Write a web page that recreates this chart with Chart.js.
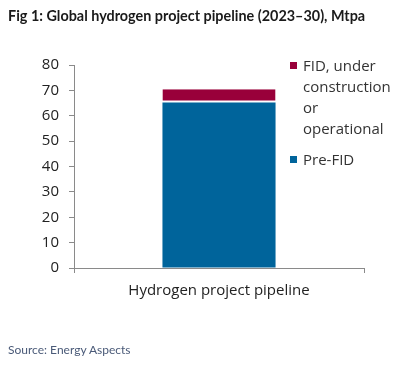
<!DOCTYPE html>
<html>
<head>
<meta charset="utf-8">
<script src="https://cdn.jsdelivr.net/npm/chart.js@4/dist/chart.umd.min.js"></script>
<style>
  html, body { margin: 0; padding: 0; background: #fff; }
  #wrap { position: relative; width: 414px; height: 375px; overflow: hidden; }
  #title { position: absolute; left: 8px; top: 7px; font-family: Lato, sans-serif; font-weight: 700; font-size: 14.4px; color: #1a1a1a; white-space: nowrap; }
  #source { position: absolute; left: 8px; top: 342px; font-family: Lato, sans-serif; font-size: 12px; color: #4a5a78; white-space: nowrap; }
  #cw { position: absolute; left: 0; top: 0; width: 414px; height: 375px; }
  #legend { position: absolute; left: 290px; top: 55px; font-family: "Open Sans", sans-serif; font-size: 15px; color: #333; line-height: 21px; }
  .item { position: relative; padding-left: 13px; margin-bottom: 10px; }
  .sw { position: absolute; left: 0; top: 7px; width: 7px; height: 7px; }
</style>
</head>
<body>
<div id="wrap">
  <div id="cw"><canvas id="c"></canvas></div>
  <div id="title">Fig 1: Global hydrogen project pipeline (2023–30), Mtpa</div>
  <div id="legend"></div>
  <div id="source">Source: Energy Aspects</div>
</div>
<script>
const categories = ['Hydrogen project pipeline'];
const seriesNames = ['Pre-FID', 'FID, under construction or operational'];
const legendLines = [['FID, under', 'construction', 'or', 'operational'], ['Pre-FID']];
const preFID = [65.2];
const fidUnderConstruction = [5.2];
const yTicks = [0, 10, 20, 30, 40, 50, 60, 70, 80];
const colors = { pre: '#00649b', fid: '#99003a' };

// HTML legend (reverse order, like stacked legend)
const legend = document.getElementById('legend');
[[colors.fid, legendLines[0]], [colors.pre, legendLines[1]]].forEach(([c, lines]) => {
  const d = document.createElement('div');
  d.className = 'item';
  d.innerHTML = '<span class="sw" style="background:' + c + '"></span>' + lines.join('<br>');
  legend.appendChild(d);
});

new Chart(document.getElementById('c'), {
  type: 'bar',
  data: {
    labels: categories,
    datasets: [
      { label: seriesNames[0], data: preFID, backgroundColor: colors.pre, borderWidth: 0,
        barPercentage: 0.39, categoryPercentage: 1 },
      { label: seriesNames[1], data: fidUnderConstruction, backgroundColor: colors.fid,
        borderColor: '#ffffff', borderWidth: { bottom: 2, top: 0, left: 0, right: 0 }, borderSkipped: false,
        barPercentage: 0.39, categoryPercentage: 1 }
    ]
  },
  options: {
    responsive: true,
    maintainAspectRatio: false,
    animation: false,
    layout: { padding: { left: 0, right: 50, top: 65, bottom: 67 } },
    plugins: { legend: { display: false }, tooltip: { enabled: false } },
    scales: {
      x: {
        stacked: true,
        afterFit: s => { s.height = 40; },
        grid: { offset: true, drawOnChartArea: false, drawTicks: true, tickLength: 5, color: '#8a8a8a' },
        border: { color: '#8a8a8a', width: 1 },
        ticks: { color: '#222', font: { family: 'Open Sans', size: 15 }, padding: 9 }
      },
      y: {
        stacked: true,
        min: 0, max: 80,
        afterFit: s => { s.width = 74; },
        afterBuildTicks: s => { s.ticks = yTicks.map(v => ({ value: v })); },
        grid: { drawOnChartArea: false, drawTicks: true, tickLength: 5, color: '#8a8a8a' },
        border: { color: '#8a8a8a', width: 1 },
        ticks: { color: '#222', font: { family: 'Open Sans', size: 15 }, padding: 10 }
      }
    }
  }
});
</script>
</body>
</html>
